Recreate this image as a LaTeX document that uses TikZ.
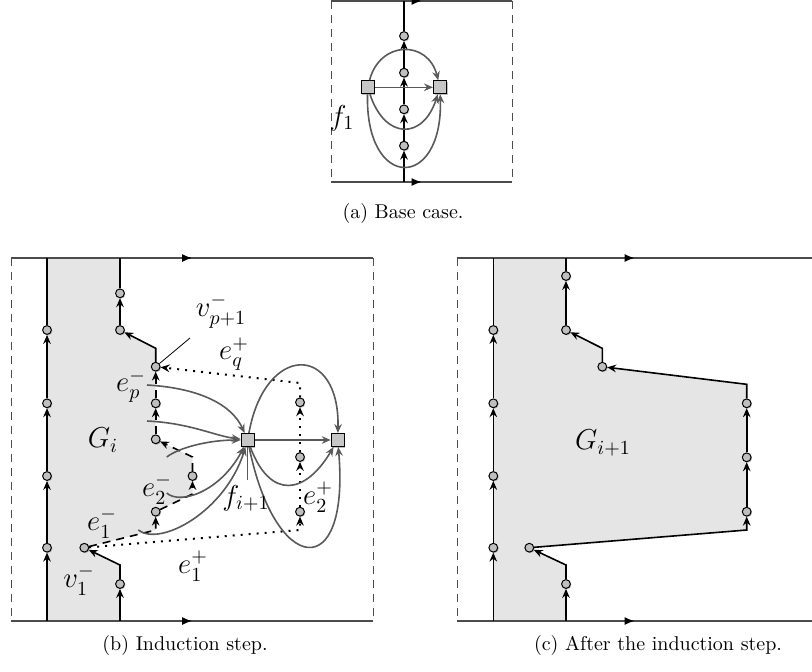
\documentclass[tikz,border=0pt]{standalone}
\usepackage{amsmath}
\usetikzlibrary{
    arrows.meta,
    decorations.markings,
    shadows
}

\begin{document}
\begin{tikzpicture}[
    x=0.5pt, y=-0.5pt,
    vert/.style={
        circle,
        draw,
        fill=gray!50,
        inner sep=0pt,
        minimum size=4.4pt,
        line width=0.5pt,
        drop shadow={shadow xshift=0.5pt, shadow yshift=-0.5pt, opacity=0.5}
    },
    face/.style={
        rectangle,
        draw,
        fill=gray!45,
        inner sep=0pt,
        minimum size=6.5pt,
        line width=0.5pt,
        drop shadow={shadow xshift=0.6pt, shadow yshift=-0.6pt, opacity=0.5}
    },
    bnd/.style={-{Stealth[length=4.5pt, width=3.8pt, inset=1.5pt]}, line width=0.8pt},
    bline/.style={line width=0.8pt},
    dashbnd/.style={bnd, dash pattern=on 4pt off 3pt},
    dotbnd/.style={bnd, line width=1pt, dash pattern=on 1pt off 3pt},
    fedge/.style={-{Stealth[length=4.5pt, width=3.8pt, inset=1.5pt]}, draw=black!65, line width=0.8pt},
    frame/.style={draw=black!70, line width=0.6pt},
    side/.style={draw=black!70, line width=0.5pt, dash pattern=on 4pt off 3pt},
    midarrow/.style={
        postaction={decorate},
        decoration={markings, mark=at position 0.5 with {\arrow[black]{Latex[length=5pt, width=4pt]}}}
    },
    lbl/.style={font=\Large, inner sep=0pt}
]

\useasboundingbox (0,0) rectangle (812,671);

% (a)
\coordinate (aTL) at (331,1);
\coordinate (aTR) at (512,1);
\coordinate (aBL) at (331,182);
\coordinate (aBR) at (512,182);
\coordinate (aTop) at (404,1);
\coordinate (aBot) at (404,182);

\draw[frame, midarrow] (aTL) -- (aTR);
\draw[frame, midarrow] (aBL) -- (aBR);
\draw[side] (aTL) -- (aBL);
\draw[side] (aTR) -- (aBR);

\node[vert] (av1) at (404,145.7) {};
\node[vert] (av2) at (404,109.3) {};
\node[vert] (av3) at (404,72.7) {};
\node[vert] (av4) at (404,36) {};
\node[face] (aL) at (367.7,87.3) {};
\node[face] (aR) at (440,87.3) {};

\draw[bnd] (aBot) -- (av1);
\draw[bnd] (av1) -- (av2);
\draw[bnd] (av2) -- (av3);
\draw[bnd] (av3) -- (av4);
\draw[bline] (av4) -- (aTop);

\draw[fedge] (aL) -- (aR);
\draw[fedge] (aL) .. controls (380,40) and (428,40) .. (aR);
\draw[fedge] (aL) .. controls (385,140) and (423,140) .. (aR);
\draw[fedge] (aL) .. controls (365,191) and (443,191) .. (aR);

\node[lbl] (lf1) at (342,118) {$f_1$};
\node (capa) at (403,213) {(a) Base case.};

% (b)
\fill[gray!20] (47,258) -- (120,258) -- (120,330) -- (155.7,348.3) -- (155.7,439.3)
    -- (192.5,457) -- (192.5,494) -- (155.7,511.7) -- (155.7,530) -- (84.3,547.7)
    -- (120,565) -- (120,621) -- (47,621) -- cycle;

\coordinate (bTL) at (11,258);
\coordinate (bTR) at (373,258);
\coordinate (bBL) at (11,621);
\coordinate (bBR) at (373,621);

\draw[frame, midarrow] (bTL) -- (bTR);
\draw[frame, midarrow] (bBL) -- (bBR);
\draw[side] (bTL) -- (bBL);
\draw[side] (bTR) -- (bBR);

\coordinate (bLB) at (47,621);
\coordinate (bLT) at (47,258);
\coordinate (bBot) at (120,621);
\coordinate (bTop) at (120,258);
\coordinate (bk1) at (120,565);
\coordinate (bk2) at (155.7,530);
\coordinate (bk3) at (192.5,494);
\coordinate (bk4) at (192.5,457);
\coordinate (bk5) at (155.7,348.3);
\coordinate (bk6) at (300,530);
\coordinate (bk7) at (300,383);

\node[vert] (bl1) at (47,547.7) {};
\node[vert] (bl2) at (47,476) {};
\node[vert] (bl3) at (47,403.3) {};
\node[vert] (bl4) at (47,330) {};

\node[vert] (bb1) at (120,584) {};
\node[vert] (bv1) at (84.3,547.7) {};
\node[vert] (bu1) at (155.7,511.7) {};
\node[vert] (bu2) at (192.5,476) {};
\node[vert] (bu3) at (155.7,439.3) {};
\node[vert] (bu4) at (155.7,403.3) {};
\node[vert] (bvp) at (155.7,366.7) {};
\node[vert] (bt2) at (120,330) {};
\node[vert] (bt1) at (120,293.3) {};

\node[vert] (bw1) at (300,511.7) {};
\node[vert] (bw2) at (300,457) {};
\node[vert] (bw3) at (300,402.3) {};

\node[face] (bf) at (247.7,440) {};
\node[face] (bg) at (337.7,440) {};

\draw[bnd] (bLB) -- (bl1);
\draw[bnd] (bl1) -- (bl2);
\draw[bnd] (bl2) -- (bl3);
\draw[bnd] (bl3) -- (bl4);
\draw[bline] (bl4) -- (bLT);

\draw[bnd] (bBot) -- (bb1);
\draw[bnd] (bb1) -- (bk1) -- (bv1);
\draw[dashbnd] (bv1) -- (bk2) -- (bu1);
\draw[dashbnd] (bu1) -- (bk3) -- (bu2);
\draw[dashbnd] (bu2) -- (bk4) -- (bu3);
\draw[dashbnd] (bu3) -- (bu4);
\draw[dashbnd] (bu4) -- (bvp);
\draw[bnd] (bvp) -- (bk5) -- (bt2);
\draw[bnd] (bt2) -- (bt1);
\draw[bline] (bt1) -- (bTop);

\draw[dotbnd] (bv1) -- (bk6) -- (bw1);
\draw[dotbnd] (bw1) -- (bw2);
\draw[dotbnd] (bw2) -- (bw3);
\draw[dotbnd] (bw3) -- (bk7) -- (bvp);

\coordinate (bs1) at (147,385);
\coordinate (bs2) at (147,421);
\coordinate (bs3) at (166.7,457);
\coordinate (bs4) at (166.7,493);
\coordinate (bs5) at (138.3,530);
\coordinate (bfl) at (247.7,480);

\draw[fedge] (bs1) .. controls (200,388) and (232,405) .. (bf);
\draw[fedge] (bs2) .. controls (190,423) and (215,436) .. (bf);
\draw[fedge] (bs3) .. controls (180,447) and (210,440) .. (bf);
\draw[fedge] (bs4) .. controls (180,505) and (220,492) .. (bf);
\draw[fedge] (bs5) .. controls (160,547) and (225,512) .. (bf);

\draw[fedge] (bf) -- (bg);
\draw[fedge] (bf) .. controls (265,343) and (340,343) .. (bg);
\draw[fedge] (bf) .. controls (270,500) and (305,495) .. (bg);
\draw[fedge] (bf) .. controls (275,575) and (350,585) .. (bg);
\draw[draw=black!65, line width=0.6pt] (bf) -- (bfl);

\coordinate (bvl) at (190,338);
\draw[line width=0.4pt] (bvl) -- (bvp);

\node[lbl] (lvp) at (221,311) {$v^-_{p+1}$};
\node[lbl] (leq) at (234,354) {$e^+_q$};
\node[lbl] (lep) at (131,386) {$e^-_p$};
\node[lbl] (lgi) at (103,440) {$G_i$};
\node[lbl] (le2m) at (157,489) {$e^-_2$};
\node[lbl] (le1m) at (102,523) {$e^-_1$};
\node[lbl] (lv1) at (79,580) {$v^-_1$};
\node[lbl] (le1p) at (193,566) {$e^+_1$};
\node[lbl] (lfi) at (246,498) {$f_{i+1}$};
\node[lbl] (le2p) at (318,497) {$e^+_2$};
\node (capb) at (185,645) {(b) Induction step.};

% (c)
\fill[gray!20] (493.3,258) -- (566,258) -- (566,330) -- (602.3,348.3) -- (602.3,366.7)
    -- (746.7,384.3) -- (746.7,530) -- (529.3,547.7) -- (566,565) -- (566,621)
    -- (493.3,621) -- cycle;

\coordinate (cTL) at (457,258);
\coordinate (cTR) at (812,258);
\coordinate (cBL) at (457,621);
\coordinate (cBR) at (812,621);

\draw[frame, midarrow] (cTL) -- (cTR);
\draw[frame, midarrow] (cBL) -- (cBR);
\draw[side] (cTL) -- (cBL);

\coordinate (cLB) at (493.3,621);
\coordinate (cLT) at (493.3,258);
\coordinate (cBot) at (566,621);
\coordinate (cTop) at (566,258);
\coordinate (ck1) at (566,565);
\coordinate (ck2) at (746.7,530);
\coordinate (ck3) at (746.7,384.3);
\coordinate (ck4) at (602.3,348.3);

\node[vert] (cl1) at (493.3,547.7) {};
\node[vert] (cl2) at (493.3,476) {};
\node[vert] (cl3) at (493.3,403.3) {};
\node[vert] (cl4) at (493.3,330) {};

\node[vert] (cb1) at (566,584) {};
\node[vert] (cv1) at (529.3,547.7) {};
\node[vert] (cr1) at (746.7,511.7) {};
\node[vert] (cr2) at (746.7,457.3) {};
\node[vert] (cr3) at (746.7,403.3) {};
\node[vert] (cvp) at (602.3,366.7) {};
\node[vert] (ct2) at (566,330) {};
\node[vert] (ct1) at (566,276) {};

\draw[bnd] (cLB) -- (cl1);
\draw[bnd] (cl1) -- (cl2);
\draw[bnd] (cl2) -- (cl3);
\draw[bnd] (cl3) -- (cl4);
\draw[bline] (cl4) -- (cLT);

\draw[bnd] (cBot) -- (cb1);
\draw[bnd] (cb1) -- (ck1) -- (cv1);
\draw[bnd] (cv1) -- (ck2) -- (cr1);
\draw[bnd] (cr1) -- (cr2);
\draw[bnd] (cr2) -- (cr3);
\draw[bnd] (cr3) -- (ck3) -- (cvp);
\draw[bnd] (cvp) -- (ck4) -- (ct2);
\draw[bnd] (ct2) -- (ct1);
\draw[bline] (ct1) -- (cTop);

\node[lbl] (lgj) at (603,443) {$G_{i+1}$};
\node (capc) at (658,645) {(c) After the induction step.};

\end{tikzpicture}
\end{document}
